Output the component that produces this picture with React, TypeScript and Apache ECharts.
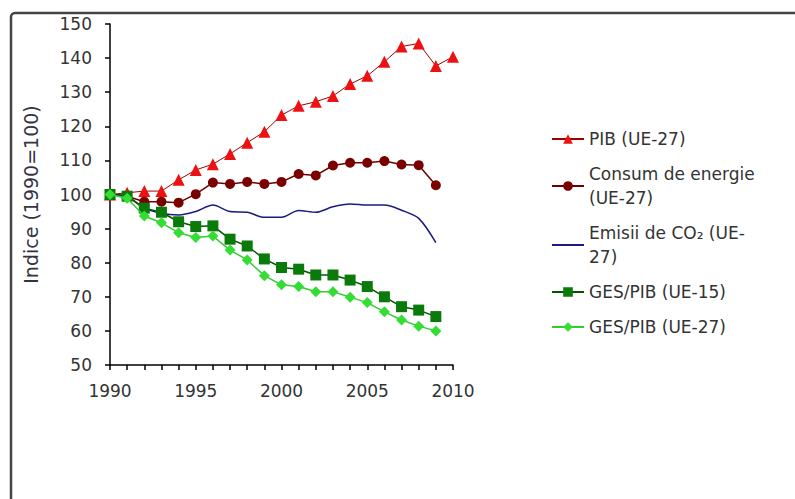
import React, { useEffect, useRef } from "react";
import * as echarts from "echarts";

const years = [1990, 1991, 1992, 1993, 1994, 1995, 1996, 1997, 1998, 1999, 2000, 2001, 2002, 2003, 2004, 2005, 2006, 2007, 2008, 2009, 2010];
const pib = [100, 100.5, 101, 101, 104.3, 107.2, 108.9, 111.9, 115.2, 118.4, 123.3, 126, 127.2, 128.9, 132.4, 134.8, 138.9, 143.4, 144.3, 137.7, 140.4];
const consum = [100, 99.5, 97.9, 97.9, 97.6, 100.1, 103.5, 103.1, 103.7, 103.1, 103.7, 106, 105.6, 108.5, 109.3, 109.3, 109.8, 108.8, 108.6, 102.7];
const co2 = [100, 99.4, 96, 94.5, 94, 95, 96.9, 95, 94.8, 93.3, 93.3, 95.3, 94.8, 96.4, 97.2, 96.9, 96.9, 95.4, 93, 85.9];
const ges15 = [100, 99.5, 96, 94.8, 92, 90.6, 90.8, 86.9, 84.9, 81.1, 78.6, 78.1, 76.4, 76.4, 74.9, 73, 70, 67.1, 66.1, 64.2];
const ges27 = [100, 98.9, 93.7, 91.7, 88.8, 87.4, 87.8, 83.7, 80.8, 76.2, 73.5, 73, 71.5, 71.5, 69.9, 68.3, 65.6, 63.2, 61.4, 60];

const names = [
  "PIB (UE-27)",
  "Consum de energie\n(UE-27)",
  "Emisii de CO₂ (UE-\n27)",
  "GES/PIB (UE-15)",
  "GES/PIB (UE-27)",
];

const pairs = (vals: number[]) => vals.map((v, i) => [years[i], v]);

export default function App() {
  const ref = useRef<HTMLDivElement>(null);
  useEffect(() => {
    if (!ref.current) return;
    const chart = echarts.init(ref.current, null, { renderer: "svg" });
    const font = "DejaVu Sans";
    chart.setOption({
      animation: false,
      backgroundColor: "#fff",
      textStyle: { fontFamily: font },
      graphic: [
        {
          type: "rect",
          shape: { x: 11, y: 13, width: 820, height: 520, r: 4 },
          style: { fill: "none", stroke: "#444", lineWidth: 2.5 },
          silent: true,
        },
      ],
      grid: { left: 110, right: 342, top: 24, bottom: 134, containLabel: false },
      xAxis: {
        type: "value",
        min: 1990,
        max: 2010,
        interval: 1,
        axisLine: { show: true, lineStyle: { color: "#000", width: 1.5 } },
        axisTick: { show: true, length: 5, lineStyle: { color: "#000", width: 1.5 } },
        splitLine: { show: false },
        axisLabel: {
          color: "#333",
          fontSize: 17,
          fontFamily: font,
          margin: 17,
          formatter: (v: number) => (v % 5 === 0 ? String(v) : ""),
        },
      },
      yAxis: {
        type: "value",
        min: 50,
        max: 150,
        interval: 10,
        name: "Indice (1990=100)",
        nameLocation: "middle",
        nameGap: 70,
        nameTextStyle: { color: "#333344", fontSize: 19, fontFamily: font },
        axisLine: { show: true, lineStyle: { color: "#000", width: 1.5 } },
        axisTick: { show: true, length: 5, lineStyle: { color: "#000", width: 1.5 } },
        splitLine: { show: false },
        axisLabel: { color: "#333", fontSize: 17, fontFamily: font, margin: 18 },
      },
      legend: {
        orient: "vertical",
        left: 546,
        top: 122,
        itemWidth: 32,
        itemHeight: 12,
        itemGap: 11,
        data: [
          names[0],
          names[1],
          { name: names[2], itemStyle: { opacity: 0 } },
          names[3],
          names[4],
        ],
        textStyle: { color: "#333", fontSize: 17, fontFamily: font, lineHeight: 24 },
      },
      series: [
        {
          name: names[0],
          type: "line",
          data: pairs(pib),
          symbol: "triangle",
          symbolSize: 12,
          lineStyle: { color: "#a00000", width: 1 },
          itemStyle: { color: "#ee1111" },
          z: 2,
        },
        {
          name: names[1],
          type: "line",
          data: pairs(consum),
          symbol: "circle",
          symbolSize: 10,
          lineStyle: { color: "#700000", width: 1.5 },
          itemStyle: { color: "#7a0000" },
          z: 3,
        },
        {
          name: names[2],
          type: "line",
          data: pairs(co2),
          symbol: "none",
          smooth: 0.3,
          lineStyle: { color: "#1a1a80", width: 1.5 },
          itemStyle: { color: "#1a1a80" },
          z: 4,
        },
        {
          name: names[3],
          type: "line",
          data: pairs(ges15),
          symbol: "rect",
          symbolSize: 11,
          lineStyle: { color: "#005500", width: 1.5 },
          itemStyle: { color: "#0a7a0a" },
          z: 5,
        },
        {
          name: names[4],
          type: "line",
          data: pairs(ges27),
          symbol: "diamond",
          symbolSize: 11,
          lineStyle: { color: "#33cc33", width: 1.5 },
          itemStyle: { color: "#33dd33" },
          z: 6,
        },
      ],
    });
    return () => chart.dispose();
  }, []);
  return (
    <div
      ref={ref}
      style={{ position: "absolute", left: 0, top: 0, width: 795, height: 499 }}
    />
  );
}
